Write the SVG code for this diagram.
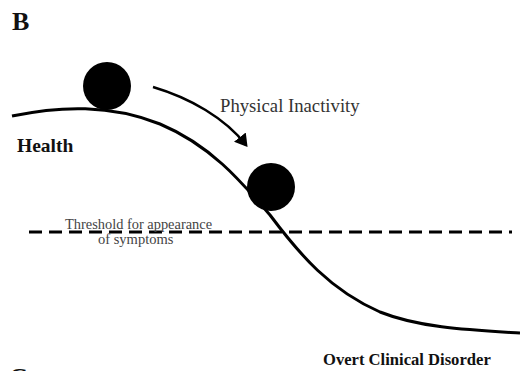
<svg xmlns="http://www.w3.org/2000/svg" width="520" height="371" viewBox="0 0 520 371">
<style>
.serif{font-family:"Liberation Serif","Times New Roman",serif}
.bold{font-weight:bold;fill:#111}
.curve{fill:none;stroke:#000;stroke-width:3}
</style>
<defs>
<marker id="ah" markerWidth="6" markerHeight="6" refX="4" refY="3" orient="auto" markerUnits="strokeWidth">
<path d="M0,0 L5,3 L0,6 Z" fill="#000"/>
</marker>
</defs>
<rect width="520" height="371" fill="#fff"/>
<text class="serif bold" x="12" y="30" font-size="26">B</text>
<g id="connectors">
<path id="curve" class="curve" d="M12,116 C60,106 110,104 160,124 C210,145 240,180 270,215 C300,255 330,290 380,312 C420,328 470,330 520,333"/>
<line id="threshold" x1="29" y1="232" x2="512" y2="232" stroke="#000" stroke-width="3" stroke-dasharray="13,7"/>
<path id="arrow" d="M153,87 C190,98 225,118 246,145" fill="none" stroke="#000" stroke-width="2.5" marker-end="url(#ah)"/>
</g>
<g id="ball1"><circle cx="107" cy="86" r="24" fill="#000"/></g>
<g id="ball2"><circle cx="271" cy="187" r="24" fill="#000"/></g>
<g id="label-inactivity"><text class="serif" x="220" y="112" font-size="18.7" fill="#333">Physical Inactivity</text></g>
<g id="label-health"><text class="serif bold" x="17" y="152" font-size="19.5">Health</text></g>
<g id="label-threshold">
<text class="serif" x="65" y="229" font-size="14.4" fill="#444">Threshold for appearance</text>
<text class="serif" x="98" y="244" font-size="14.5" fill="#444">of symptoms</text>
</g>
<g id="label-disorder"><text class="serif bold" x="323" y="365" font-size="16.6">Overt Clinical Disorder</text></g>
<text class="serif bold" x="9" y="386" font-size="26">C</text>
</svg>
